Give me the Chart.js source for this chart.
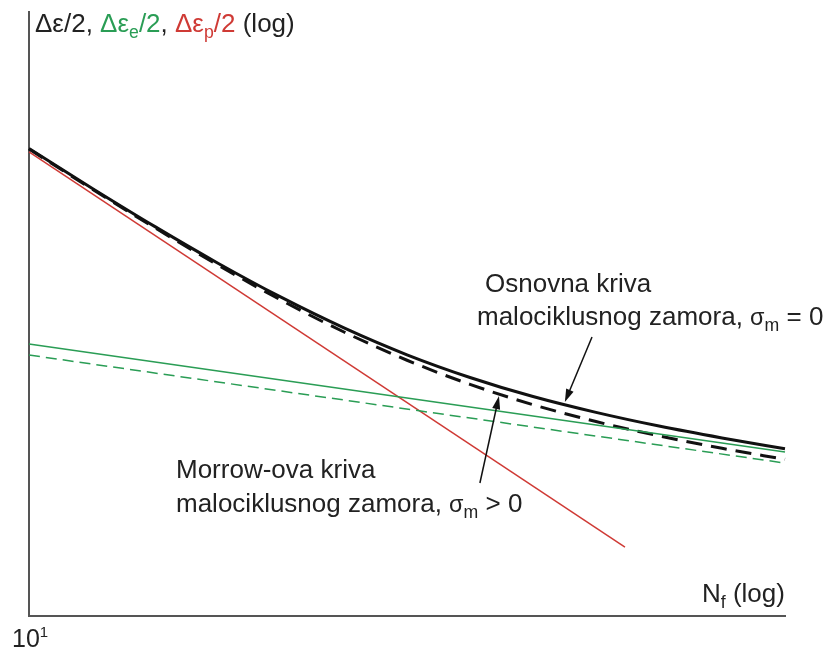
<!DOCTYPE html>
<html>
<head>
<meta charset="utf-8">
<script src="https://cdn.jsdelivr.net/npm/chart.js@4.4.0/dist/chart.umd.min.js"></script>
<style>
  html, body { margin: 0; padding: 0; background: #fff; }
  #chartdiv { width: 833px; height: 653px; }
</style>
</head>
<body>
<div id="chartdiv"><canvas id="chart"></canvas></div>
<script>
// broj ciklusa do loma N_f (log osa)
const cycles = [10, 31.6, 100, 316, 1000, 3162, 10000, 31623, 100000, 316228, 1000000, 3162278, 10000000]
// osnovna kriva, sigma_m = 0
const totalStrain = [0.1246, 0.0681, 0.0379, 0.0217, 0.01292, 0.00809, 0.00537, 0.00380, 0.00284, 0.00223, 0.00181, 0.00151, 0.00128]
// Morrow-ova kriva, sigma_m > 0
const morrowStrain = [0.1237, 0.0673, 0.0372, 0.0211, 0.01236, 0.00760, 0.00494, 0.00342, 0.00251, 0.00194, 0.00156, 0.00129, 0.00109]
// elasticna i plasticna komponenta
const elasticCycles = [10, 10000000]
const elasticStrain = [0.00632, 0.00122]
const elasticMorrow = [0.00535, 0.00103]
const plasticCycles = [10, 537000]
const plasticStrain = [0.1183, 0.000286]
// strelice [rep, vrh] u jedinicama grafika
const arrowOsnovna = [[294000, 0.00704], [179000, 0.00261]]
const arrowMorrow = [[37900, 0.00076], [53700, 0.00286]]

const GREEN = '#2a9d55'
const RED = '#cf3a35'
const FONT = "'Liberation Sans', Arial, sans-serif"

const toPoints = (xs, ys) => xs.map((x, i) => ({ x: x, y: ys[i] }))

const drawRuns = (ctx, x, y, runs, size) => {
  let cx = x
  for (let r of runs) {
    let s = size
    let dy = 0
    if (r.sub) { s = size * 0.68; dy = size * 0.22 }
    if (r.sup) { s = size * 0.6; dy = -size * 0.42 }
    if (r.small) { s = size * 0.9 }
    ctx.font = s + 'px ' + FONT
    ctx.fillStyle = r.c || '#222'
    ctx.fillText(r.t, cx, y + dy)
    cx += ctx.measureText(r.t).width
  }
}

const drawArrow = (ctx, chart, arrow) => {
  const xs = chart.scales.x
  const ys = chart.scales.y
  const x1 = xs.getPixelForValue(arrow[0][0])
  const y1 = ys.getPixelForValue(arrow[0][1])
  const x2 = xs.getPixelForValue(arrow[1][0])
  const y2 = ys.getPixelForValue(arrow[1][1])
  const ang = Math.atan2(y2 - y1, x2 - x1)
  const len = 13
  const w = 4
  ctx.strokeStyle = '#111'
  ctx.fillStyle = '#111'
  ctx.lineWidth = 1.5
  ctx.beginPath()
  ctx.moveTo(x1, y1)
  ctx.lineTo(x2 - Math.cos(ang) * len * 0.8, y2 - Math.sin(ang) * len * 0.8)
  ctx.stroke()
  ctx.beginPath()
  ctx.moveTo(x2, y2)
  ctx.lineTo(x2 - Math.cos(ang) * len - Math.sin(ang) * w, y2 - Math.sin(ang) * len + Math.cos(ang) * w)
  ctx.lineTo(x2 - Math.cos(ang) * len + Math.sin(ang) * w, y2 - Math.sin(ang) * len - Math.cos(ang) * w)
  ctx.closePath()
  ctx.fill()
}

const labelsPlugin = {
  id: 'labels',
  afterDraw: (chart) => {
    const ctx = chart.ctx
    ctx.save()
    ctx.textBaseline = 'alphabetic'
    ctx.textAlign = 'left'

    drawArrow(ctx, chart, arrowOsnovna)
    drawArrow(ctx, chart, arrowMorrow)

    // naslov y ose
    drawRuns(ctx, 35, 32, [
      { t: 'Δε/2, ' },
      { t: 'Δε', c: GREEN }, { t: 'e', c: GREEN, sub: true }, { t: '/2', c: GREEN },
      { t: ', ' },
      { t: 'Δε', c: RED }, { t: 'p', c: RED, sub: true }, { t: '/2', c: RED },
      { t: ' (log)' }
    ], 26)

    // x osa
    drawRuns(ctx, 702, 602, [{ t: 'N' }, { t: 'f', sub: true }, { t: ' (log)' }], 26)
    drawRuns(ctx, 12, 647, [{ t: '10' }, { t: '1', sup: true }], 25)

    // osnovna kriva
    drawRuns(ctx, 485, 292, [{ t: 'Osnovna kriva' }], 26)
    drawRuns(ctx, 477, 325, [
      { t: 'malociklusnog zamora, ' }, { t: 'σ', small: true }, { t: 'm', sub: true }, { t: ' = 0' }
    ], 26)

    // Morrow
    drawRuns(ctx, 176, 478, [{ t: 'Morrow-ova kriva' }], 26)
    drawRuns(ctx, 176, 512, [
      { t: 'malociklusnog zamora, ' }, { t: 'σ', small: true }, { t: 'm', sub: true }, { t: ' > 0' }
    ], 26)
    ctx.restore()
  }
}

const data = {
  datasets: [
    {
      label: 'elasticna, Morrow',
      data: toPoints(elasticCycles, elasticMorrow),
      borderColor: GREEN,
      borderWidth: 1.5,
      borderDash: [11, 6]
    },
    {
      label: 'elasticna',
      data: toPoints(elasticCycles, elasticStrain),
      borderColor: GREEN,
      borderWidth: 1.5
    },
    {
      label: 'plasticna',
      data: toPoints(plasticCycles, plasticStrain),
      borderColor: RED,
      borderWidth: 1.5
    },
    {
      label: 'Morrow-ova kriva',
      data: toPoints(cycles, morrowStrain),
      borderColor: '#111',
      borderWidth: 3,
      borderDash: [16, 9],
      cubicInterpolationMode: 'monotone'
    },
    {
      label: 'Osnovna kriva',
      data: toPoints(cycles, totalStrain),
      borderColor: '#111',
      borderWidth: 3,
      cubicInterpolationMode: 'monotone'
    }
  ]
}

const config = {
  type: 'scatter',
  data: data,
  options: {
    responsive: false,
    animation: false,
    showLine: true,
    elements: { point: { radius: 0 } },
    layout: { padding: { left: 21, right: 48, top: 12, bottom: 29 } },
    plugins: {
      legend: { display: false },
      tooltip: { enabled: false }
    },
    datasets: { scatter: { clip: false } },
    scales: {
      x: {
        type: 'logarithmic',
        min: 10,
        max: 10000000,
        grid: { display: false },
        ticks: { display: false },
        border: { display: true, color: '#555', width: 2 }
      },
      y: {
        type: 'logarithmic',
        min: 0.0001,
        max: 1,
        grid: { display: false },
        ticks: { display: false },
        border: { display: true, color: '#555', width: 2 }
      }
    }
  },
  plugins: [labelsPlugin]
}

const canv = document.getElementById('chart')
canv.width = 833
canv.height = 653
canv.style.width = '833px'
canv.style.height = '653px'
const mychart = new Chart(canv.getContext('2d'), config)
</script>
</body>
</html>
